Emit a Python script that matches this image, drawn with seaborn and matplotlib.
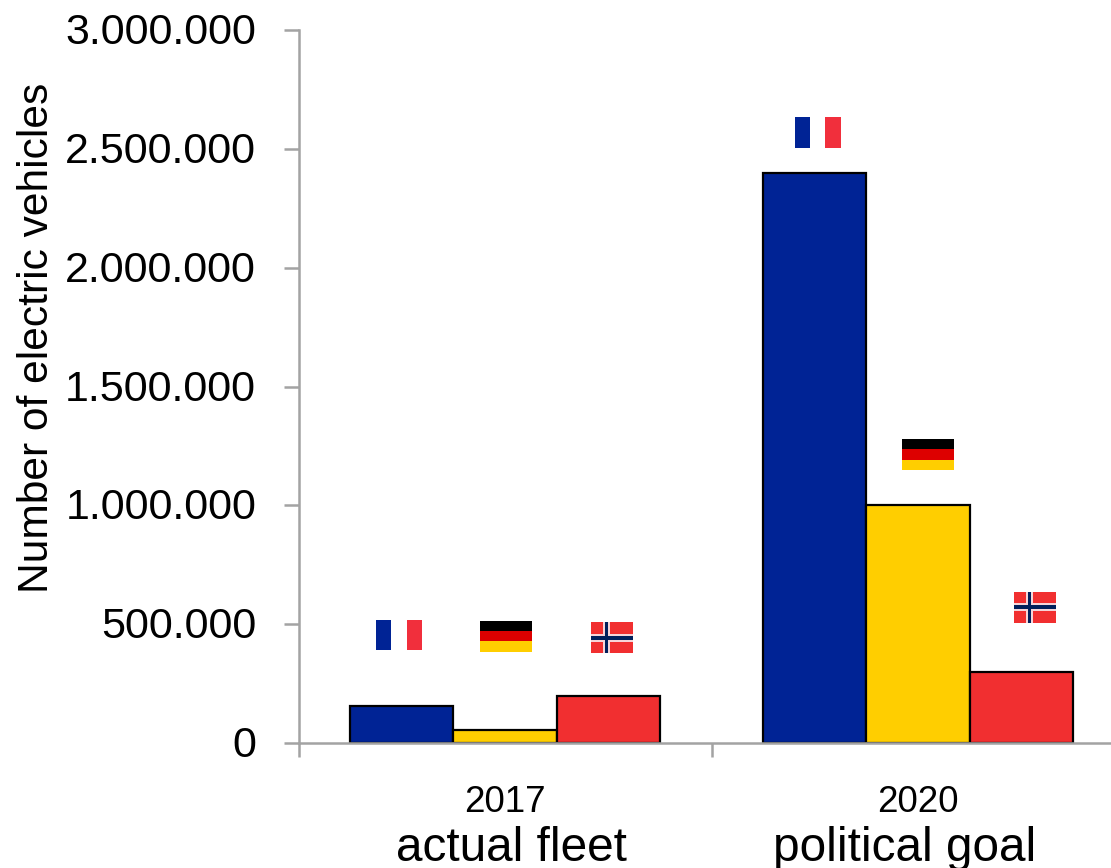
import matplotlib
matplotlib.use("Agg")
import matplotlib.pyplot as plt
from matplotlib.patches import Rectangle
from matplotlib.ticker import FuncFormatter, FixedLocator
from matplotlib.transforms import ScaledTranslation
import pandas as pd
import seaborn as sns

years = ["2017", "2020"]
subtitles = ["actual fleet", "political goal"]
subtitle_shift = [6, -13]
countries = ["France", "Germany", "Norway"]
france = [157000, 2400000]
germany = [57000, 1000000]
norway = [200000, 300000]
bar_colors = ["#002395", "#FFCE00", "#F12F30"]

# Flag centres: category position and vehicle count, one pair per year and country
flag_x = {"France": [-0.257, 0.757], "Germany": [0.003, 1.024], "Norway": [0.259, 1.283]}
flag_y = {"France": [455000, 2570000], "Germany": [450000, 1215000], "Norway": [443000, 571000]}

GREY = "#A3A3A3"
sns.set_style("white")
plt.rcParams["font.family"] = ["Liberation Sans", "DejaVu Sans"]

frame = pd.DataFrame({
    "year": years * 3,
    "country": [c for c in countries for _ in years],
    "vehicles": france + germany + norway,
})

fig = plt.figure(figsize=(11.11, 8.68), dpi=100)
ax = fig.add_axes([298.5 / 1111, 1 - 743.2 / 868, (1111 - 298.5) / 1111, 713.2 / 868])
sns.barplot(data=frame, x="year", y="vehicles", hue="country", hue_order=countries,
            palette=bar_colors, width=0.75, gap=0, saturation=1, errorbar=None,
            edgecolor="black", linewidth=1.6, legend=False, ax=ax)

ax.set_xlim(-0.5, 1.467)
ax.set_ylim(0, 3000000)
ax.set_yticks(range(0, 3000001, 500000))
ax.yaxis.set_major_formatter(FuncFormatter(lambda v, _: f"{int(v):,}".replace(",", ".")))
ax.tick_params(axis="y", which="major", left=True, length=11, width=1.8, color=GREY,
               labelsize=31, pad=19.5, labelcolor="black")
ax.tick_params(axis="x", which="major", bottom=False, labelsize=26.5, pad=26.5, labelcolor="black")
ax.xaxis.set_minor_locator(FixedLocator([-0.5, 0.5]))
ax.tick_params(axis="x", which="minor", bottom=True, length=10, width=1.8, color=GREY)

# Nudge the value labels so their digits sit level with the tick marks
nudge = ScaledTranslation(0, 1.5 / 100, fig.dpi_scale_trans)
for tick_label in ax.get_yticklabels():
    tick_label.set_transform(tick_label.get_transform() + nudge)

ax.set_xlabel("")
ax.set_ylabel("")
fig.text(37 / 1111, 1 - 337.5 / 868, "Number of electric vehicles", rotation=90,
         ha="center", va="center", fontsize=30.6, color="black")

for side in ("top", "right"):
    ax.spines[side].set_visible(False)
for side in ("left", "bottom"):
    ax.spines[side].set_color(GREY)
    ax.spines[side].set_linewidth(1.8)

for i, label in enumerate(subtitles):
    ax.annotate(label, xy=(i, 0), xycoords=ax.get_xaxis_transform(),
                xytext=(subtitle_shift[i], -83), textcoords="offset pixels",
                ha="center", va="top", fontsize=34.4, color="black")


def stripes(cx, cy, w, h, colors, vertical):
    """Draw an evenly striped flag centred on (cx, cy)."""
    n = len(colors)
    for k, col in enumerate(colors):
        if vertical:
            r = Rectangle((cx - w / 2 + k * w / n, cy - h / 2), w / n, h, fc=col, ec="none")
        else:
            r = Rectangle((cx - w / 2, cy + h / 2 - (k + 1) * h / n), w, h / n, fc=col, ec="none")
        ax.add_patch(r)


FLAG_H = 130000
for i in range(2):
    stripes(flag_x["France"][i], flag_y["France"][i], 0.112, FLAG_H,
            ["#002395", "white", "#F12F3C"], True)
    stripes(flag_x["Germany"][i], flag_y["Germany"][i], 0.125, FLAG_H,
            ["black", "#DD0000", "#FFCE00"], False)
    # Norway: red field with a white and a navy cross set towards the hoist
    cx, cy, w = flag_x["Norway"][i], flag_y["Norway"][i], 0.102
    ax.add_patch(Rectangle((cx - w / 2, cy - FLAG_H / 2), w, FLAG_H, fc="#F12F30", ec="none"))
    cross_x = cx - w / 2 + w * 0.37
    for thick_x, thick_y, col in ((0.0175, 34000, "#F6D5D8"), (0.009, 17000, "#00205B")):
        ax.add_patch(Rectangle((cross_x - thick_x / 2, cy - FLAG_H / 2), thick_x, FLAG_H, fc=col, ec="none"))
        ax.add_patch(Rectangle((cx - w / 2, cy - thick_y / 2), w, thick_y, fc=col, ec="none"))

fig.savefig("out.png", dpi=100)
